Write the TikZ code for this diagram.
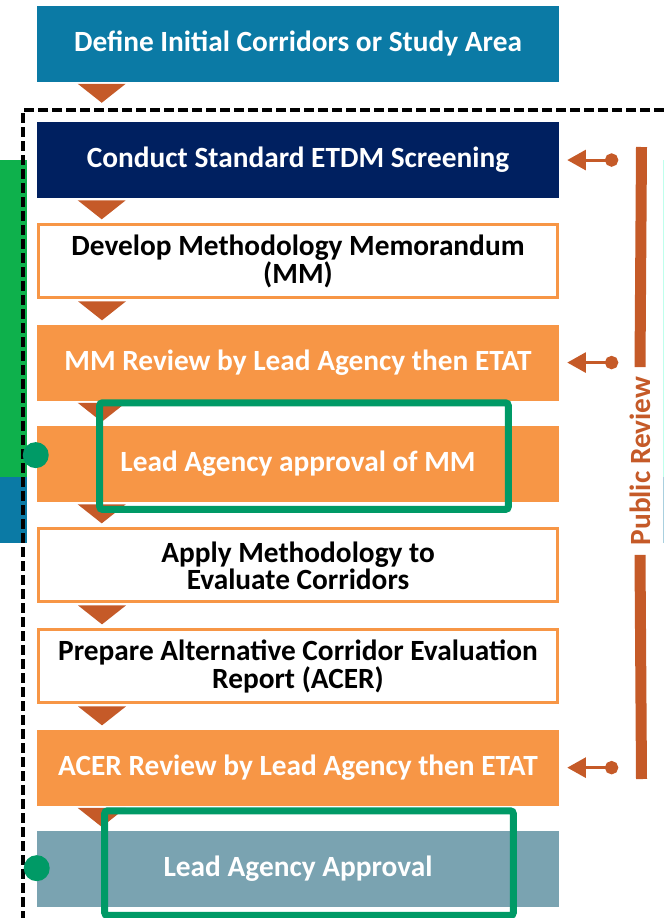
\documentclass[tikz,border=0pt]{standalone}
\usepackage{fontspec}
\setmainfont{Carlito}
\usetikzlibrary{arrows.meta,positioning}
\definecolor{topblue}{RGB}{11,122,165}
\definecolor{navy}{RGB}{0,32,96}
\definecolor{orfill}{RGB}{247,150,70}
\definecolor{rust}{RGB}{197,90,40}
\definecolor{slate}{RGB}{122,163,177}
\definecolor{frgreen}{RGB}{0,154,102}
\definecolor{barg}{RGB}{14,177,76}

\begin{document}
\begin{tikzpicture}[
  x=0.75pt,y=-0.75pt,
  node distance=18.75pt,
  box/.style={minimum width=391.5pt,minimum height=57pt,inner sep=0pt,align=center,
    font=\fontsize{22}{18.75}\selectfont\bfseries},
  fbox/.style={box,fill=#1,text=white},
  wbox/.style={box,draw=orfill,line width=2.25pt,fill=white,text=black,
    minimum width=389.25pt,minimum height=54.75pt},
  chev/.style={fill=rust},
  feed/.style={{Circle[length=10pt]}-{Triangle[length=14pt,width=15pt]},rust,line width=2.25pt,shorten >=6pt},
  revbar/.style={rust,line width=8.25pt},
  okframe/.style={frgreen,line width=5.25pt,rounded corners=2pt},
  gdot/.style={circle,fill=frgreen,minimum size=19.5pt,inner sep=0pt},
  dashline/.style={black,line width=2.4pt,dash pattern=on 7.5pt off 3pt}
]
\useasboundingbox (0,0) rectangle (664,918);
\fill[barg] (0,160) rectangle (27,477);
\fill[topblue] (0,477) rectangle (27,543);
\draw[green!30!cyan!25,line width=0.75pt] (663.5,160) -- (663.5,477);
\draw[topblue!35,line width=0.75pt] (663.5,477) -- (663.5,543);
\draw[dashline] (664,110) -- (23,110) -- (23,918);

\node[fbox=topblue] (define) at (298,43.5) {Define Initial Corridors or Study Area};
\node[fbox=navy, below=30pt of define] (screen) {Conduct Standard ETDM Screening};
\node[wbox, below=of screen] (memo) {Develop Methodology Memorandum\\(MM)};
\node[fbox=orfill, below=of memo] (mmrev) {MM Review by Lead Agency then ETAT};
\node[fbox=orfill, below=of mmrev] (mmok) {Lead Agency approval of MM};
\node[wbox, below=of mmok] (apply) {Apply Methodology to\\Evaluate Corridors};
\node[wbox, below=of apply] (prepare) {Prepare Alternative Corridor Evaluation\\Report (ACER)};
\node[fbox=orfill, below=of prepare] (acerrev) {ACER Review by Lead Agency then ETAT};
\node[fbox=slate, below=of acerrev] (laa) {Lead Agency Approval};

\foreach \n in {define,screen,memo,mmrev,mmok,apply,prepare,acerrev}
  \fill[chev] ([shift={(41,2)}]\n.south west) -- ++(48,0) -- ++(-24,19) -- cycle;

\draw[okframe] ([shift={(63,-23)}]mmok.north west) rectangle ([shift={(-51,7)}]mmok.south east);
\draw[okframe] ([shift={(68,-20)}]laa.north west) rectangle ([shift={(-46,8)}]laa.south east);
\node[gdot] (dot1) at ([shift={(-1,-9)}]mmok.west) {};
\node[gdot] (dot2) at ([shift={(0,-1)}]laa.west) {};

\foreach \n/\c in {screen/f1,mmrev/f2,acerrev/f3}{
  \coordinate (\c) at ([shift={(59,0)}]\n.east);
  \draw[feed] (\c) -- (\n.east);
}

\node[rotate=90,text=rust,inner sep=7pt,font=\fontsize{22}{18.75}\selectfont\bfseries] (pubrev) at (640,461) {Public Review};
\coordinate (revtop) at (641.5,147);
\coordinate (revbot) at (641.5,779);
\draw[revbar] (revtop) -- (pubrev.east);
\draw[revbar] (pubrev.west) -- (revbot);
\end{tikzpicture}
\end{document}
